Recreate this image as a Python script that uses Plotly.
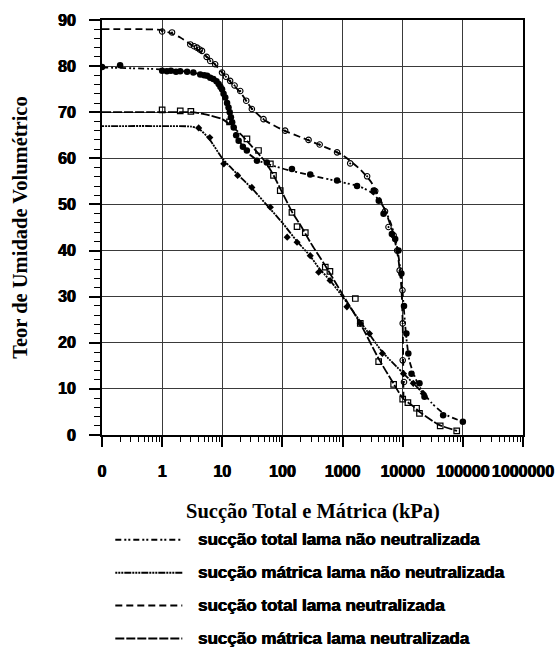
import plotly.graph_objects as go

# Fitted retention curves (suction in kPa, volumetric water content in %)
total_neut_fit_x = [0.1, 0.5, 1, 2, 3, 5, 7, 10, 15, 20, 30, 50, 100, 200, 500, 1000, 2000, 3000, 5000, 7000, 8500, 9500, 10000, 10300]
total_neut_fit_y = [88, 88, 87.8, 86.2, 84.7, 82.5, 80.8, 78.6, 76.0, 74.3, 71.0, 68.3, 66.2, 64.6, 62.5, 60.7, 57.5, 54.8, 49.0, 43.5, 38.0, 32.0, 24.0, 8.0]

total_nneut_fit_x = [0.1, 1, 3, 5, 7, 9, 11, 13, 15, 18, 25, 40, 100, 300, 1000, 2000, 3000, 4000, 5000, 6500, 8000, 9500, 10500, 11500, 13000, 16000, 20000, 30000, 50000, 100000]
total_nneut_fit_y = [79.7, 79.3, 78.7, 78.0, 77.2, 76.0, 73.5, 70.5, 67.5, 64.5, 61.5, 59.5, 57.8, 56.3, 54.8, 53.8, 52.6, 51.0, 49.0, 45.5, 41.0, 34.0, 27.0, 21.0, 16.0, 12.5, 10.0, 7.0, 4.5, 2.9]

matric_neut_fit_x = [0.1, 1, 3, 5, 10, 20, 30, 50, 70, 100, 150, 200, 300, 500, 1000, 2000, 4000, 7000, 10000, 15000, 20000, 40000, 80000]
matric_neut_fit_y = [70, 70, 70, 69.6, 68.5, 65.3, 62.8, 59.5, 56.5, 52.5, 48.0, 45.5, 41.5, 37.0, 30.5, 24.0, 16.5, 11.2, 8.0, 6.2, 4.8, 2.2, 0.9]

matric_nneut_fit_x = [0.1, 1, 3, 4, 6, 10, 18, 31, 63, 100, 175, 290, 400, 620, 1000, 2000, 4600, 10000, 15000, 22000]
matric_nneut_fit_y = [67, 67, 66.9, 66.5, 64.3, 60.0, 56.5, 53.5, 49.0, 46.0, 42.0, 38.8, 36.3, 33.5, 30.0, 24.5, 18.0, 13.5, 11.2, 9.0]

# Measured points
total_neut_x = [1, 1.46, 2.94, 3.4, 3.8, 4.2, 4.6, 5.5, 6.3, 7.6, 9.9, 11.5, 13.5, 16, 19.9, 25, 31, 48.5, 111, 272, 416, 810, 1340, 2560, 3490, 5080, 5800, 7060, 8090, 8900, 9900, 10000, 10000, 10500]
total_neut_y = [87.5, 87.3, 84.7, 84.3, 84.0, 83.6, 83.3, 82.0, 81.1, 80.4, 78.6, 77.7, 76.8, 75.8, 74.6, 72.5, 70.7, 68.5, 66.0, 64.0, 63.0, 61.3, 58.9, 56.1, 52.9, 48.5, 45.1, 43.3, 40.0, 35.7, 31.4, 24.2, 16.2, 11.5]

total_nneut_x = [0.1, 0.2, 1, 1.2, 1.4, 1.7, 2, 2.6, 3.3, 4.3, 5.0, 5.6, 6.3, 7.1, 8.0, 8.7, 9.3, 9.9, 10.5, 11.2, 12, 12.7, 13.3, 13.9, 14.6, 15.5, 17, 18.7, 22, 25.6, 37.6, 55, 144, 290, 810, 1740, 3300, 4000, 4800, 6600, 7500, 8500, 9500, 10500, 11500, 12400, 14000, 19000, 23000, 47000, 100000]
total_nneut_y = [79.8, 80.2, 79.0, 78.9, 79.0, 78.8, 78.9, 78.8, 78.6, 78.2, 78.0, 77.9, 77.5, 77.2, 76.7, 76.1, 75.5, 75.0, 74.0, 73.2, 72.0, 71.0, 70.0, 68.9, 67.8, 66.7, 65.0, 63.8, 62.5, 61.7, 59.5, 59.1, 57.7, 56.5, 55.2, 54.0, 53.0, 50.8, 48.0, 43.6, 42.5, 40.0, 35.0, 28.0, 22.0, 17.7, 13.3, 11.2, 8.3, 4.3, 2.9]

matric_neut_x = [1, 2.0, 3.0, 13.2, 25.7, 40, 63, 71, 92, 144, 175, 240, 516, 616, 1630, 1970, 3980, 7060, 10000, 12200, 17000, 19000, 42000, 79000]
matric_neut_y = [70.5, 70.3, 70.2, 67.9, 64.2, 61.7, 58.8, 56.3, 53.0, 48.3, 45.2, 43.9, 36.4, 35.5, 29.6, 24.2, 15.9, 11.0, 7.8, 7.0, 5.8, 4.7, 2.0, 0.9]

matric_nneut_x = [4.05, 6.2, 10.6, 18, 31, 63, 120, 175, 290, 400, 620, 1180, 1970, 2800, 4600, 10300, 15000, 22000]
matric_nneut_y = [66.6, 64.5, 58.8, 56.3, 53.7, 49.4, 42.9, 41.8, 38.9, 35.3, 33.5, 27.8, 24.2, 22.0, 17.7, 13.3, 11.2, 9.0]

x_tick_vals = [0.1, 1, 10, 100, 1000, 10000, 100000, 1000000]
x_tick_text = ["0", "1", "10", "100", "1000", "10000", "100000", "1000000"]
y_tick_vals = [0, 10, 20, 30, 40, 50, 60, 70, 80, 90]
y_tick_text = ["0", "10", "20", "30", "40", "50", "60", "70", "80", "90"]

series = [
    dict(name="sucção total lama não neutralizada", fx=total_nneut_fit_x, fy=total_nneut_fit_y,
         mx=total_nneut_x, my=total_nneut_y, dash="6px,3px,2px,2px,2px,3px",
         marker=dict(symbol="circle", size=6.5, color="black")),
    dict(name="sucção mátrica lama não neutralizada", fx=matric_nneut_fit_x, fy=matric_nneut_fit_y,
         mx=matric_nneut_x, my=matric_nneut_y, dash="2px,1px,2px,1px,2px,1px,7px,1px",
         marker=dict(symbol="diamond", size=5.5, color="black")),
    dict(name="sucção total lama neutralizada", fx=total_neut_fit_x, fy=total_neut_fit_y,
         mx=total_neut_x, my=total_neut_y, dash="7px,4px",
         marker=dict(symbol="circle-open-dot", size=5.5, color="black", line=dict(width=1.1))),
    dict(name="sucção mátrica lama neutralizada", fx=matric_neut_fit_x, fy=matric_neut_fit_y,
         mx=matric_neut_x, my=matric_neut_y, dash="9px,2px",
         marker=dict(symbol="square-open", size=5.5, color="black", line=dict(width=1.2))),
]

fig = go.Figure()
for s in series:
    fig.add_trace(go.Scatter(x=s["fx"], y=s["fy"], mode="lines", name=s["name"],
                             line=dict(color="black", width=1.8, dash=s["dash"], shape="spline", smoothing=0.6),
                             showlegend=False))
    fig.add_trace(go.Scatter(x=s["mx"], y=s["my"], mode="markers", name=s["name"],
                             marker=s["marker"], showlegend=False))

# Legend keys below the plot: dashed sample followed by label
px_w, px_h = 421.0, 416.0
def to_paper_x(px):
    return (px - 101.7) / px_w
def to_paper_y(py):
    return (435.0 - py) / px_h

heavy = "0.5px 0 0 black, -0.3px 0 0 black"
row_y = [540, 573, 606, 639]
for s, ry in zip(series, row_y):
    fig.add_shape(type="line", xref="paper", yref="paper",
                  x0=to_paper_x(115), x1=to_paper_x(182), y0=to_paper_y(ry), y1=to_paper_y(ry),
                  line=dict(color="black", width=2, dash=s["dash"]))
    fig.add_annotation(xref="paper", yref="paper", x=to_paper_x(196), y=to_paper_y(ry),
                       text="<b>" + s["name"] + "</b>", showarrow=False, xanchor="left", yanchor="middle",
                       font=dict(family="Liberation Sans", size=17, color="black", shadow=heavy))

title_font = dict(family="Liberation Serif", size=20.5, color="black")
fig.add_annotation(xref="paper", yref="paper", x=0.5, y=to_paper_y(512),
                   text="<b>Sucção Total e Mátrica (kPa)</b>", showarrow=False,
                   xanchor="center", yanchor="middle", font=title_font)
fig.add_annotation(xref="paper", yref="paper", x=to_paper_x(19), y=0.5,
                   text="<b>Teor de Umidade Volumétrico</b>", showarrow=False, textangle=-90,
                   xanchor="center", yanchor="middle", font=title_font)

tick_font = dict(family="Liberation Sans", size=16, color="black", shadow=heavy)
fig.update_xaxes(type="log", range=[-1, 6], tickvals=x_tick_vals,
                 ticktext=["<b>" + t + "</b>" for t in x_tick_text],
                 ticks="outside", ticklen=10, tickwidth=1.5, tickcolor="black",
                 showline=True, linecolor="black", linewidth=2, mirror=True,
                 showgrid=True, gridcolor="#3a3a3a", gridwidth=1.4,
                 zeroline=False, tickfont=tick_font, ticklabelstandoff=11,
                 minor=dict(dtick="D1", ticks="outside", ticklen=5, tickwidth=1.3,
                            tickcolor="black", showgrid=False))
fig.update_yaxes(range=[0, 90], tickvals=y_tick_vals,
                 ticktext=["<b>" + t + "</b>" for t in y_tick_text],
                 ticks="outside", ticklen=11, tickwidth=1.5, tickcolor="black",
                 showline=True, linecolor="black", linewidth=2, mirror=True,
                 showgrid=True, gridcolor="#3a3a3a", gridwidth=1.4,
                 zeroline=False, tickfont=tick_font, ticklabelstandoff=10,
                 minor=dict(dtick=2, tick0=0, ticks="outside", ticklen=6, tickwidth=1.3,
                            tickcolor="black", showgrid=False))

fig.update_layout(width=557, height=653, autosize=False,
                  margin=dict(l=101.7, r=34.3, t=19, b=218),
                  paper_bgcolor="white", plot_bgcolor="white", showlegend=False)

fig.write_html("out.html")
